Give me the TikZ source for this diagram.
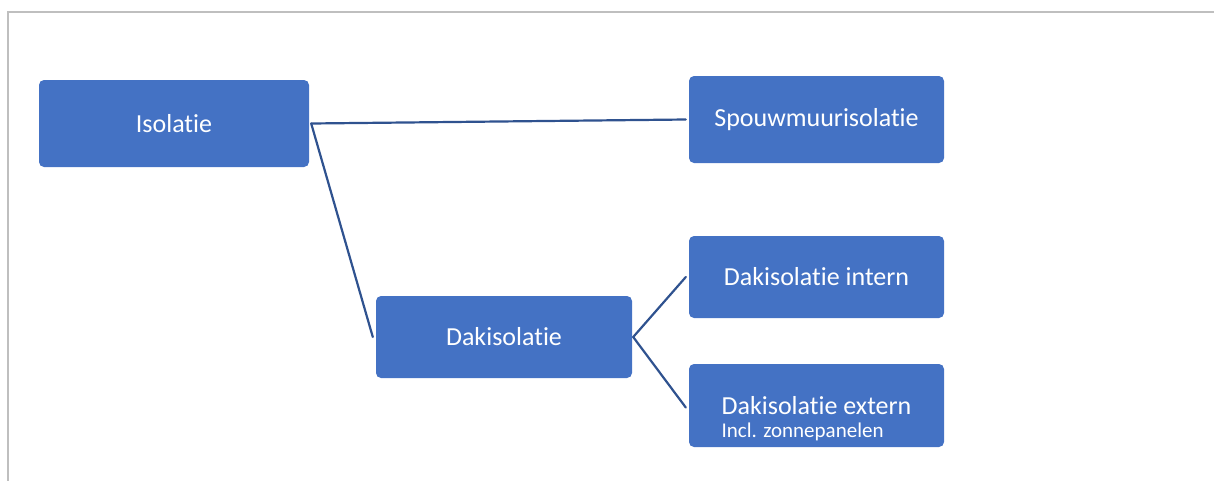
\documentclass[tikz,border=0pt]{standalone}
\usepackage{fontspec}
\setmainfont{Carlito}[RawFeature={-liga;-clig;-dlig;-calt;-rlig;-ccmp}]
\usepackage{tikz}
\usetikzlibrary{positioning, calc}

\definecolor{boxblue}{HTML}{4472C4}
\definecolor{linkblue}{HTML}{2F528F}
\definecolor{framegray}{HTML}{BFBFBF}

\tikzset{
	topic/.style={rectangle, rounded corners=5pt, fill=boxblue, text=white,
		minimum width=255pt, minimum height=82pt, inner sep=0pt,
		font=\fontsize{26}{31}\selectfont},
	link/.style={draw=linkblue, line width=2.2pt, line cap=round}
}

\begin{document}
\begin{tikzpicture}[x=1pt, y=-1pt]
			\useasboundingbox (0,0) rectangle (1214,480);
			\draw [framegray, line width=2pt] (8,481) -- (8,12) -- (1215,12);
			\node (isol) [topic, minimum width=270pt, minimum height=87pt] at (174,123.5) {Isolatie};
			\node (spouw) [topic, minimum height=87pt] at (816.5,119.5) {Spouwmuurisolatie};
			\node (dak) [topic, minimum width=256pt] at (504,337) {Dakisolatie};
			\node (intern) [topic] at (816.5,277) {Dakisolatie intern};
			\node (extern) [topic, minimum height=83pt] at (816.5,405.5) {};
			\node (extern text) [align=left, text=white, inner sep=0pt,
				font=\fontsize{26}{31}\selectfont] at ($(extern.center)+(0,13)$)
				{Dakisolatie extern\\[-8pt]{\fontsize{21}{25}\selectfont Incl. zonnepanelen}};
			\draw [link] ([xshift=2pt]isol.east) -- ([xshift=-3pt]spouw.west);
			\draw [link] ([xshift=2pt]isol.east) -- ([xshift=-3pt]dak.west);
			\draw [link] ([xshift=1pt]dak.east) -- ([xshift=-3pt]intern.west);
			\draw [link] ([xshift=1pt]dak.east) -- ([xshift=-3pt,yshift=-2pt]extern.west);
		\end{tikzpicture}
\end{document}
